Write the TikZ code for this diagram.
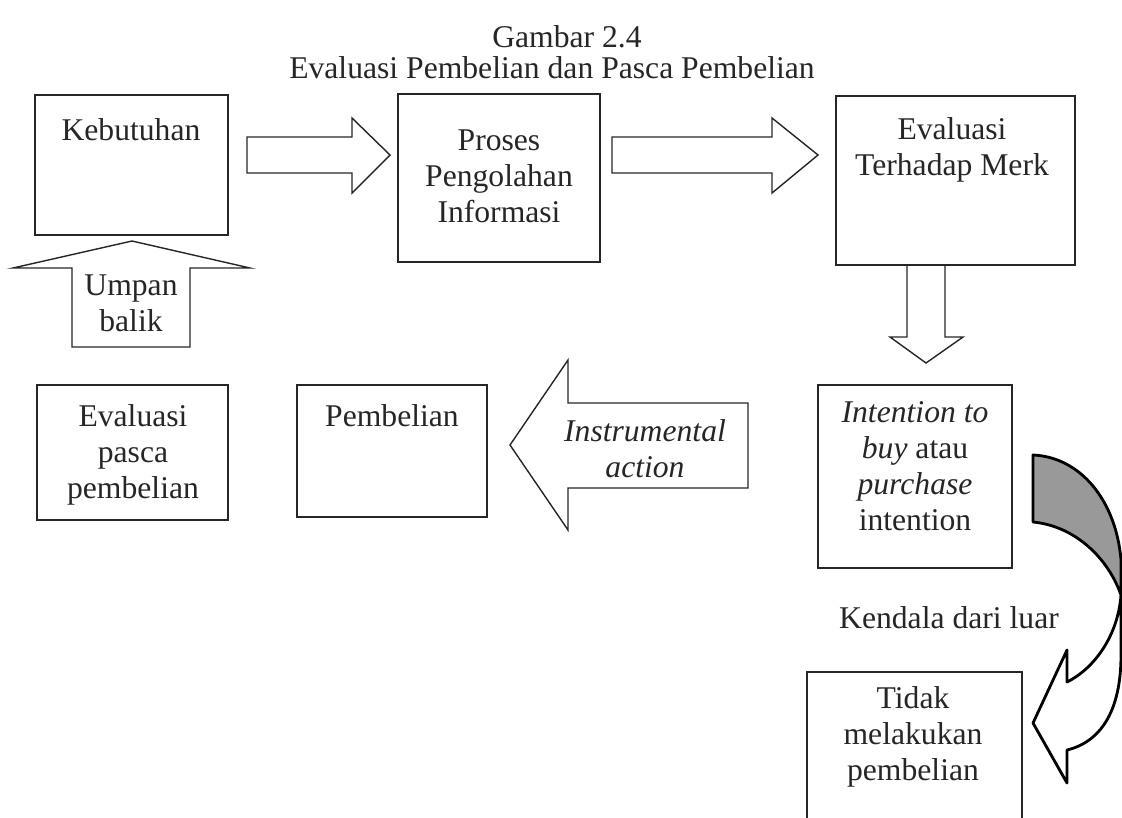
\documentclass[tikz,border=0pt]{standalone}
\usepackage{fontspec}
\setmainfont{Liberation Serif}
\usetikzlibrary{fit}

\begin{document}
\begin{tikzpicture}[
  x={(0.025cm,0cm)}, y={(0cm,-0.025cm)},
  box/.style={draw=black!85, line width=1.2pt, inner sep=0pt},
  barrow/.style={draw=black!85, line width=1pt, line join=miter},
  lab/.style={font=\fontsize{22.5}{25.6}\selectfont, text=black!85, align=center, inner sep=0pt},
  curved/.style={draw=black, line width=2pt, line join=round},
]
\useasboundingbox (0,0) rectangle (1122,817);

% ------------------------------------------------------------------
% title
% ------------------------------------------------------------------
\node[lab] (judul1) at (567,37) {Gambar 2.4};
\node[lab] (judul2) at (552,68) {Evaluasi Pembelian dan Pasca Pembelian};

% ------------------------------------------------------------------
% upper row: boxes and block arrows
% ------------------------------------------------------------------
\node[box, fit={(35,95) (228,235)}]  (keb)    {};
\node[box, fit={(398,94) (600,262)}] (proses) {};
\node[box, fit={(836,96) (1075,265)}] (merk)  {};

\node[lab] (kebT)    at (131,130) {Kebutuhan};
\node[lab] (prosesT) at (499,176) {Proses\\Pengolahan\\Informasi};
\node[lab] (merkT)   at (952,150) {Evaluasi\\Terhadap Merk};

% keb -> proses
\draw[barrow] (247,137) -- (352,137) -- (352,118) -- (390,155)
              -- (352,193) -- (352,173) -- (247,173) -- cycle;
% proses -> merk
\draw[barrow] (612,137) -- (772,137) -- (772,118) -- (818,155)
              -- (772,193) -- (772,173) -- (612,173) -- cycle;
% merk -> niat (shaft starts on the box)
\draw[barrow] (907,265) -- (907,337) -- (890,337) -- (926,363)
              -- (963,337) -- (945,337) -- (945,265);

% feedback arrow (Umpan balik)
\draw[barrow] (72,347) -- (72,268) -- (13,268) -- (132,241)
              -- (250,268) -- (190,268) -- (190,347) -- cycle;
\node[lab] (umpanT) at (131,303) {Umpan\\balik};

% ------------------------------------------------------------------
% lower row
% ------------------------------------------------------------------
\node[box, fit={(37,385) (228,520)}]  (pasca) {};
\node[box, fit={(297,385) (487,517)}] (beli)  {};
\node[box, fit={(818,385) (1012,568)}] (niat) {};

\node[lab] (pascaT) at (133,455) {Evaluasi\\pasca\\pembelian};
\node[lab] (beliT)  at (392,416) {Pembelian};
\node[lab] (niatT)  at (915,466)
     {\textit{Intention to}\\\textit{buy} atau\\\textit{purchase}\\intention};

% niat -> beli
\draw[barrow] (748,403) -- (568,403) -- (568,360) -- (510,445)
              -- (568,530) -- (568,488) -- (748,488) -- cycle;
\node[lab, font=\fontsize{22.5}{25.6}\selectfont\itshape] (instrT) at (645,449)
     {Instrumental\\action};

% ------------------------------------------------------------------
% external constraint
% ------------------------------------------------------------------
\node[lab] (kendala) at (949,618) {Kendala dari luar};
\node[box, fit={(807,672) (1022,840)}] (tidak) {};
\node[lab] (tidakT) at (913,737) {Tidak\\melakukan\\pembelian};

% curved arrow: shaded back face, then white front with head
\filldraw[curved, fill=black!40]
   (1033,455) .. controls (1080,457) and (1116,500) .. (1121,560)
   -- (1121,595) .. controls (1108,558) and (1075,526) .. (1033,522) -- cycle;
\filldraw[curved, fill=white]
   (1121,595) .. controls (1118,635) and (1095,668) .. (1067,682)
   -- (1067,650) -- (1033,723) -- (1067,783) -- (1067,750)
   .. controls (1100,742) and (1121,712) .. (1121,655) -- cycle;
\end{tikzpicture}
\end{document}
